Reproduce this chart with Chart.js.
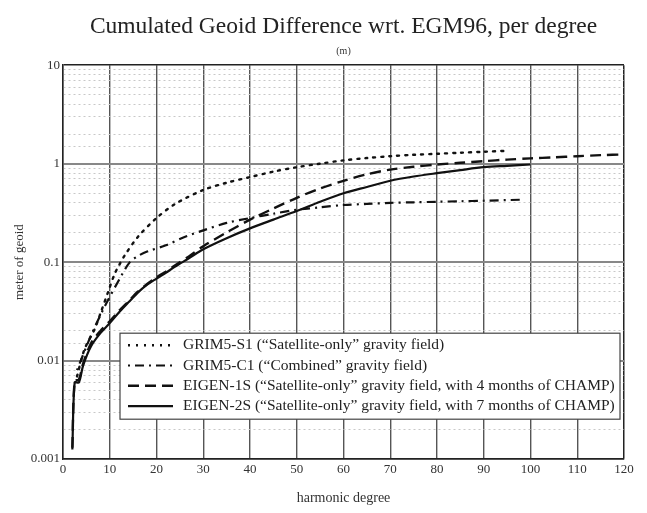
<!DOCTYPE html>
<html>
<head>
<meta charset="utf-8">
<script src="https://cdn.jsdelivr.net/npm/chart.js@4/dist/chart.umd.min.js"></script>
<style>
  html, body { margin: 0; padding: 0; background: #fff; }
  #wrap { width: 647px; height: 513px; }
</style>
</head>
<body>
<div id="wrap"><canvas id="c" width="647" height="513"></canvas></div>
<script>
// ---- data ----
const titleText = "Cumulated Geoid Difference wrt. EGM96, per degree";
const subtitleText = "(m)";
const xAxisTitle = "harmonic degree";
const yAxisTitle = "meter of geoid";
const yTickLabels = [0.001, 0.01, 0.1, 1, 10];

const seriesLabels = [
  "GRIM5-S1 (\u201cSatellite-only\u201d gravity field)",
  "GRIM5-C1 (\u201cCombined\u201d gravity field)",
  "EIGEN-1S (\u201cSatellite-only\u201d gravity field, with 4 months of CHAMP)",
  "EIGEN-2S (\u201cSatellite-only\u201d gravity field, with 7 months of CHAMP)"
];

const grimS1Degrees = [3, 4.6, 6.8, 8, 9.6, 11, 12, 13.2, 16, 20, 24, 30, 35, 40, 45, 50, 55, 60, 65, 70, 75, 80, 85, 90, 95];
const grimS1Values  = [0.0069, 0.013, 0.021, 0.03, 0.049, 0.075, 0.093, 0.117, 0.18, 0.28, 0.39, 0.54, 0.64, 0.73, 0.83, 0.92, 1.0, 1.08, 1.14, 1.19, 1.23, 1.26, 1.29, 1.32, 1.35];

const grimC1Degrees = [3, 6, 9, 12.5, 14.3, 16, 18, 22, 26, 30, 35, 40, 45, 50, 55, 60, 65, 70, 75, 80, 85, 90, 98];
const grimC1Values  = [0.008, 0.018, 0.036, 0.073, 0.1, 0.115, 0.128, 0.148, 0.18, 0.21, 0.25, 0.28, 0.31, 0.34, 0.36, 0.38, 0.39, 0.4, 0.405, 0.41, 0.415, 0.42, 0.43];

const eigen1SDegrees = [2, 2.5, 3.4, 4.3, 6, 8, 10, 12, 14, 16, 18, 20, 22, 24, 27, 30, 35, 40, 45, 50, 55, 60, 65, 70, 75, 80, 85, 90, 95, 100, 105, 110, 115, 120];
const eigen1SValues  = [0.0013, 0.0062, 0.0064, 0.0093, 0.015, 0.02, 0.025, 0.032, 0.04, 0.05, 0.06, 0.07, 0.08, 0.093, 0.115, 0.145, 0.2, 0.27, 0.35, 0.45, 0.56, 0.67, 0.78, 0.87, 0.93, 0.98, 1.02, 1.06, 1.1, 1.13, 1.16, 1.19, 1.22, 1.24];

const eigen2SDegrees = [2, 2.5, 3.4, 4.3, 6, 8, 10, 12, 14, 16, 18, 20, 22, 24, 27, 30, 35, 40, 45, 50, 55, 60, 65, 70, 75, 80, 85, 90, 95, 100];
const eigen2SValues  = [0.00125, 0.006, 0.006, 0.0089, 0.014, 0.019, 0.024, 0.031, 0.039, 0.049, 0.059, 0.068, 0.078, 0.09, 0.11, 0.135, 0.175, 0.22, 0.27, 0.33, 0.41, 0.5, 0.58, 0.67, 0.74, 0.8, 0.86, 0.92, 0.95, 0.98];

// ---- helpers ----
const SERIF = "'Liberation Serif', 'DejaVu Serif', serif";
const pts = (xs, ys) => xs.map((x, i) => ({ x: x, y: ys[i] }));
const isDecade = v => Math.abs(Math.log10(v) - Math.round(Math.log10(v))) < 1e-6;

const legendPlugin = {
  id: 'boxLegend',
  afterDraw(chart) {
    const ctx = chart.ctx;
    const a = chart.chartArea;
    const bx = a.left + 57, by = a.top + 268, bw = a.right - 4 - bx, bh = 86;
    ctx.save();
    ctx.fillStyle = '#fff';
    ctx.fillRect(bx, by, bw, bh);
    ctx.strokeStyle = '#444';
    ctx.lineWidth = 1.2;
    ctx.strokeRect(bx, by, bw, bh);
    ctx.font = "15.5px " + SERIF;
    ctx.textBaseline = 'middle';
    chart.data.datasets.forEach((ds, i) => {
      const y = by + 12 + i * 20.3;
      ctx.strokeStyle = ds.borderColor;
      ctx.lineWidth = ds.borderWidth;
      ctx.setLineDash(ds.borderDash || []);
      ctx.beginPath();
      ctx.moveTo(bx + 8, y);
      ctx.lineTo(bx + 53, y);
      ctx.stroke();
      ctx.setLineDash([]);
      ctx.fillStyle = '#222';
      ctx.fillText(ds.label, bx + 63, y);
    });
    ctx.restore();
  }
};

new Chart(document.getElementById('c'), {
  type: 'line',
  data: {
    datasets: [
      { label: seriesLabels[0], data: pts(grimS1Degrees, grimS1Values), borderColor: '#111', borderWidth: 2.4, borderDash: [2, 6], borderCapStyle: 'round' },
      { label: seriesLabels[1], data: pts(grimC1Degrees, grimC1Values), borderColor: '#111', borderWidth: 2.2, borderDash: [2, 5, 9, 5] },
      { label: seriesLabels[2], data: pts(eigen1SDegrees, eigen1SValues), borderColor: '#111', borderWidth: 2.4, borderDash: [11, 6] },
      { label: seriesLabels[3], data: pts(eigen2SDegrees, eigen2SValues), borderColor: '#111', borderWidth: 2.2 }
    ]
  },
  options: {
    responsive: false,
    animation: false,
    devicePixelRatio: 1,
    elements: { point: { radius: 0 }, line: { tension: 0.3, fill: false } },
    layout: { padding: { left: 12, right: 23, top: 0, bottom: 0 } },
    plugins: {
      legend: { display: false },
      tooltip: { enabled: false },
      title: {
        display: true, text: titleText, color: '#222', fullSize: false,
        font: { family: SERIF, size: 23.5, weight: 'normal', lineHeight: 1.2 },
        padding: { top: 13, bottom: 3 }
      },
      subtitle: {
        display: true, text: subtitleText, color: '#333', fullSize: false,
        font: { family: SERIF, size: 10, weight: 'normal', lineHeight: 1.2 },
        padding: { top: 1, bottom: 8 }
      }
    },
    scales: {
      x: {
        type: 'linear', min: 0, max: 120,
        ticks: { stepSize: 10, color: '#333', font: { family: SERIF, size: 13 }, padding: 3, maxRotation: 0 },
        grid: {
          drawTicks: false,
          color: c => (c.tick && c.tick.value === 120) ? '#222' : '#555',
          lineWidth: c => (c.tick && c.tick.value === 120) ? 1.5 : 1.4
        },
        border: { color: '#222', width: 1.5 },
        title: { display: true, text: xAxisTitle, color: '#333', font: { family: SERIF, size: 14 }, padding: { top: 4, bottom: 6 } },
        afterFit: s => { s.height = 54; }
      },
      y: {
        type: 'logarithmic', min: 0.001, max: 10,
        ticks: {
          color: '#333', font: { family: SERIF, size: 13 }, padding: 3, autoSkip: false,
          callback: v => (isDecade(v) && yTickLabels.some(t => Math.abs(t - v) / t < 1e-6)) ? String(Number(v.toPrecision(1))) : ''
        },
        grid: {
          drawTicks: false,
          color: c => {
            const v = c.tick && c.tick.value;
            if (!v) return '#ccc';
            if (Math.abs(v - 10) < 1e-9) return '#222';
            return isDecade(v) ? '#888' : '#c8c8c8';
          },
          lineWidth: c => {
            const v = c.tick && c.tick.value;
            if (!v) return 1;
            if (Math.abs(v - 10) < 1e-9) return 1.5;
            return isDecade(v) ? 2 : 1;
          }
        },
        border: { color: '#222', width: 1.5, dash: c => (c.tick && c.tick.value && !isDecade(c.tick.value)) ? [2, 3] : [] },
        title: { display: true, text: yAxisTitle, color: '#333', font: { family: SERIF, size: 13 }, padding: { top: 0, bottom: 4 } },
        afterFit: s => { s.width = 51; }
      }
    }
  },
  plugins: [legendPlugin]
});
</script>
</body>
</html>
